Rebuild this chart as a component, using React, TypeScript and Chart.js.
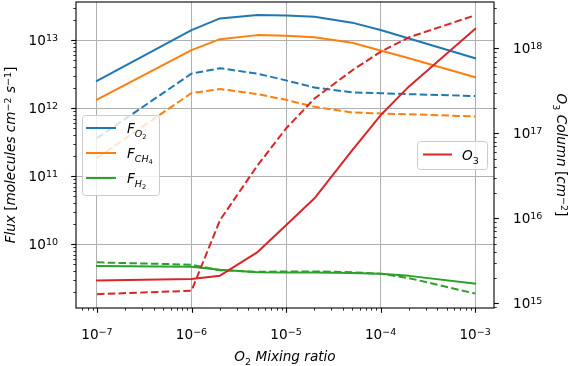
import React, { useEffect, useRef } from "react";
import { Chart, registerables } from "chart.js";

Chart.register(...registerables);

// ---------------- data ----------------
const O2_MIXING_RATIO = [1e-7, 1e-6, 2e-6, 5e-6, 1e-5, 2e-5, 5e-5, 1e-4, 2e-4, 1e-3];

const F_O2_SOLID = [2.5e12, 1.4e13, 2.08e13, 2.33e13, 2.3e13, 2.2e13, 1.8e13, 1.4e13, 1.05e13, 5.4e12];
const F_CH4_SOLID = [1.33e12, 7.1e12, 1.03e13, 1.18e13, 1.16e13, 1.1e13, 9.1e12, 7.0e12, 5.4e12, 2.84e12];
const F_H2_SOLID = [4.75e9, 4.64e9, 4.2e9, 3.85e9, 3.82e9, 3.8e9, 3.75e9, 3.65e9, 3.4e9, 2.62e9];

const F_O2_DASHED = [3.6e11, 3.2e12, 3.85e12, 3.2e12, 2.55e12, 2.0e12, 1.7e12, 1.65e12, 1.6e12, 1.5e12];
const F_CH4_DASHED = [1.84e11, 1.66e12, 1.9e12, 1.6e12, 1.32e12, 1.04e12, 8.6e11, 8.3e11, 8.1e11, 7.5e11];
const F_H2_DASHED = [5.37e9, 4.97e9, 4.1e9, 3.9e9, 3.95e9, 3.95e9, 3.85e9, 3.65e9, 3.15e9, 1.87e9];

const O3_COLUMN_SOLID = [1.85e15, 1.93e15, 2.11e15, 4.0e15, 8.3e15, 1.72e16, 6.3e16, 1.63e17, 3.57e17, 1.7e18];
const O3_COLUMN_DASHED = [1.28e15, 1.4e15, 9.5e15, 4.2e16, 1.14e17, 2.57e17, 5.5e17, 9.1e17, 1.35e18, 2.45e18];

// decade exponents for tick labels
const X_MAJOR_EXP = [-7, -6, -5, -4, -3];
const YL_MAJOR_EXP = [10, 11, 12, 13];
const YR_MAJOR_EXP = [15, 16, 17, 18];

// axis limits (log10)
const X_LIM = [-7.2, -2.8];
const YL_LIM = [9.059, 13.559];
const YR_LIM = [14.944, 18.546];

// ---------------- styles ----------------
const BLUE = "#1f77b4";
const ORANGE = "#ff7f0e";
const GREEN = "#2ca02c";
const RED = "#d62728";
const FONT = '"DejaVu Sans"';
const FS = 13.6;
const DASH = [7.5, 3.3];

type Run = { t: string; l?: number; i?: boolean };

const X_TITLE: Run[] = [{ t: "O", i: true }, { t: "2", l: -1 }, { t: " Mixing ratio", i: true }];
const YL_TITLE: Run[] = [
  { t: "Flux ", i: true },
  { t: "[" },
  { t: "molecules cm", i: true },
  { t: "\u22122", l: 1 },
  { t: " s", i: true },
  { t: "\u22121", l: 1 },
  { t: "]" },
];
const YR_TITLE: Run[] = [
  { t: "O", i: true },
  { t: "3", l: -1 },
  { t: " Column ", i: true },
  { t: "[" },
  { t: "cm", i: true },
  { t: "\u22122", l: 1 },
  { t: "]" },
];

const LEFT_LEGEND: { color: string; label: Run[] }[] = [
  { color: BLUE, label: [{ t: "F", i: true }, { t: "O", l: -1, i: true }, { t: "2", l: -2 }] },
  { color: ORANGE, label: [{ t: "F", i: true }, { t: "CH", l: -1, i: true }, { t: "4", l: -2 }] },
  { color: GREEN, label: [{ t: "F", i: true }, { t: "H", l: -1, i: true }, { t: "2", l: -2 }] },
];
const RIGHT_LEGEND: { color: string; label: Run[] }[] = [
  { color: RED, label: [{ t: "O", i: true }, { t: "3", l: -1 }] },
];

function runFont(r: Run) {
  const lvl = Math.abs(r.l || 0);
  const size = FS * Math.pow(0.7, lvl);
  return `${r.i ? "italic " : ""}${size}px ${FONT}`;
}
function runShift(r: Run) {
  const l = r.l || 0;
  if (l === 1) return -0.3 * FS;
  if (l === -1) return 0.3 * FS;
  if (l === -2) return 0.3 * FS + 0.16 * FS;
  return 0;
}
function richWidth(ctx: CanvasRenderingContext2D, runs: Run[]) {
  let w = 0;
  for (const r of runs) {
    ctx.font = runFont(r);
    w += ctx.measureText(r.t).width;
  }
  return w;
}
function drawRich(
  ctx: CanvasRenderingContext2D,
  runs: Run[],
  x: number,
  y: number,
  align: "left" | "center" | "right"
) {
  const w = richWidth(ctx, runs);
  let cx = align === "left" ? x : align === "center" ? x - w / 2 : x - w;
  ctx.textAlign = "left";
  ctx.textBaseline = "alphabetic";
  for (const r of runs) {
    ctx.font = runFont(r);
    ctx.fillText(r.t, cx, y + runShift(r));
    cx += ctx.measureText(r.t).width;
  }
}
function expRuns(e: number): Run[] {
  return [{ t: "10" }, { t: e < 0 ? "\u2212" + String(-e) : String(e), l: 1 }];
}
function roundRect(ctx: CanvasRenderingContext2D, x: number, y: number, w: number, h: number, r: number) {
  ctx.beginPath();
  ctx.moveTo(x + r, y);
  ctx.lineTo(x + w - r, y);
  ctx.quadraticCurveTo(x + w, y, x + w, y + r);
  ctx.lineTo(x + w, y + h - r);
  ctx.quadraticCurveTo(x + w, y + h, x + w - r, y + h);
  ctx.lineTo(x + r, y + h);
  ctx.quadraticCurveTo(x, y + h, x, y + h - r);
  ctx.lineTo(x, y + r);
  ctx.quadraticCurveTo(x, y, x + r, y);
  ctx.closePath();
}

function minorValues(lim: number[]) {
  const out: { v: number; major: boolean }[] = [];
  for (let e = Math.floor(lim[0]); e <= Math.ceil(lim[1]); e++) {
    for (let k = 1; k <= 9; k++) {
      const v = k * Math.pow(10, e);
      const lv = Math.log10(v);
      if (lv >= lim[0] - 1e-9 && lv <= lim[1] + 1e-9) out.push({ v, major: k === 1 });
    }
  }
  return out;
}

const decorPlugin = {
  id: "decor",
  afterDraw(chart: any) {
    const ctx: CanvasRenderingContext2D = chart.ctx;
    const { left, right, top, bottom } = chart.chartArea;
    const xs = chart.scales.x;
    const yl = chart.scales.y;
    const yr = chart.scales.y2;
    ctx.save();

    // legends
    const drawLegend = (
      items: { color: string; label: Run[] }[],
      box: number[],
      rows: number[],
      hx0: number,
      hx1: number,
      tx: number
    ) => {
      roundRect(ctx, box[0], box[1], box[2], box[3], 3);
      ctx.fillStyle = "rgba(255,255,255,0.8)";
      ctx.fill();
      ctx.strokeStyle = "#cccccc";
      ctx.lineWidth = 1;
      ctx.stroke();
      items.forEach((it, i) => {
        const y = rows[i];
        ctx.strokeStyle = it.color;
        ctx.lineWidth = 2;
        ctx.lineCap = "butt";
        ctx.setLineDash([]);
        ctx.beginPath();
        ctx.moveTo(hx0, y);
        ctx.lineTo(hx1, y);
        ctx.stroke();
        ctx.fillStyle = "#000";
        drawRich(ctx, it.label, tx, y + 5, "left");
      });
    };
    drawLegend(LEFT_LEGEND, [82.5, 115.5, 77, 80], [128, 153, 178], 86, 116, 127);
    drawLegend(RIGHT_LEGEND, [417.5, 141.5, 70, 28], [154.5], 423, 452, 462);

    // spines
    ctx.strokeStyle = "#000";
    ctx.lineWidth = 1.1;
    ctx.setLineDash([]);
    ctx.strokeRect(left, top, right - left, bottom - top);

    // ticks
    ctx.lineWidth = 1;
    for (const t of minorValues(X_LIM)) {
      const px = Math.round(xs.getPixelForValue(t.v)) + 0.5;
      const len = t.major ? 4.8 : 2.7;
      ctx.lineWidth = t.major ? 1.1 : 0.8;
      ctx.beginPath();
      ctx.moveTo(px, bottom);
      ctx.lineTo(px, bottom + len);
      ctx.stroke();
    }
    for (const t of minorValues(YL_LIM)) {
      const py = Math.round(yl.getPixelForValue(t.v)) + 0.5;
      const len = t.major ? 4.8 : 2.7;
      ctx.lineWidth = t.major ? 1.1 : 0.8;
      ctx.beginPath();
      ctx.moveTo(left, py);
      ctx.lineTo(left - len, py);
      ctx.stroke();
    }
    for (const t of minorValues(YR_LIM)) {
      const py = Math.round(yr.getPixelForValue(t.v)) + 0.5;
      const len = t.major ? 4.8 : 2.7;
      ctx.lineWidth = t.major ? 1.1 : 0.8;
      ctx.beginPath();
      ctx.moveTo(right, py);
      ctx.lineTo(right + len, py);
      ctx.stroke();
    }

    // tick labels
    ctx.fillStyle = "#000";
    for (const e of X_MAJOR_EXP) {
      const px = xs.getPixelForValue(Math.pow(10, e));
      drawRich(ctx, expRuns(e), px, bottom + 31, "center");
    }
    for (const e of YL_MAJOR_EXP) {
      const py = yl.getPixelForValue(Math.pow(10, e));
      drawRich(ctx, expRuns(e), left - 18, py + 5, "right");
    }
    for (const e of YR_MAJOR_EXP) {
      const py = yr.getPixelForValue(Math.pow(10, e));
      drawRich(ctx, expRuns(e), right + 19, py + 5, "left");
    }

    // axis titles
    drawRich(ctx, X_TITLE, (left + right) / 2, 360.5, "center");
    ctx.save();
    ctx.translate(15, (top + bottom) / 2);
    ctx.rotate(-Math.PI / 2);
    drawRich(ctx, YL_TITLE, 0, 0, "center");
    ctx.restore();
    ctx.save();
    ctx.translate(557, (top + bottom) / 2);
    ctx.rotate(Math.PI / 2);
    drawRich(ctx, YR_TITLE, 0, 0, "center");
    ctx.restore();

    ctx.restore();
  },
};

function series(values: number[], color: string, dashed: boolean, yAxisID: string, order: number) {
  return {
    data: O2_MIXING_RATIO.map((x, i) => ({ x, y: values[i] })),
    borderColor: color,
    backgroundColor: color,
    borderWidth: 2,
    borderDash: dashed ? DASH : [],
    borderCapStyle: dashed ? "butt" : "square",
    borderJoinStyle: "round",
    pointRadius: 0,
    pointHoverRadius: 0,
    tension: 0,
    fill: false,
    yAxisID,
    order,
  };
}

export default function App() {
  const ref = useRef<HTMLCanvasElement>(null);
  useEffect(() => {
    const gridOpts = { color: "#b0b0b0", lineWidth: 1, drawTicks: false };
    const chart = new Chart(ref.current as HTMLCanvasElement, {
      type: "line",
      data: {
        datasets: [
          series(O3_COLUMN_SOLID, RED, false, "y2", 0),
          series(O3_COLUMN_DASHED, RED, true, "y2", 1),
          series(F_O2_SOLID, BLUE, false, "y", 2),
          series(F_CH4_SOLID, ORANGE, false, "y", 3),
          series(F_H2_SOLID, GREEN, false, "y", 4),
          series(F_O2_DASHED, BLUE, true, "y", 5),
          series(F_CH4_DASHED, ORANGE, true, "y", 6),
          series(F_H2_DASHED, GREEN, true, "y", 7),
        ] as any,
      },
      options: {
        responsive: false,
        animation: false,
        devicePixelRatio: 1,
        layout: { padding: { top: 2, left: 0, right: 0, bottom: 0 } },
        plugins: { legend: { display: false }, tooltip: { enabled: false } },
        events: [],
        scales: {
          x: {
            type: "logarithmic",
            position: "bottom",
            min: Math.pow(10, X_LIM[0]),
            max: Math.pow(10, X_LIM[1]),
            grid: gridOpts,
            border: { display: false },
            ticks: { display: false },
            afterBuildTicks: (s: any) => {
              s.ticks = X_MAJOR_EXP.map((e) => ({ value: Math.pow(10, e) }));
            },
            afterFit: (s: any) => {
              s.height = 58;
            },
          },
          y: {
            type: "logarithmic",
            position: "left",
            min: Math.pow(10, YL_LIM[0]),
            max: Math.pow(10, YL_LIM[1]),
            grid: gridOpts,
            border: { display: false },
            ticks: { display: false },
            afterBuildTicks: (s: any) => {
              s.ticks = YL_MAJOR_EXP.map((e) => ({ value: Math.pow(10, e) }));
            },
            afterFit: (s: any) => {
              s.width = 76;
            },
          },
          y2: {
            type: "logarithmic",
            position: "right",
            min: Math.pow(10, YR_LIM[0]),
            max: Math.pow(10, YR_LIM[1]),
            grid: { display: false, drawTicks: false },
            border: { display: false },
            ticks: { display: false },
            afterBuildTicks: (s: any) => {
              s.ticks = YR_MAJOR_EXP.map((e) => ({ value: Math.pow(10, e) }));
            },
            afterFit: (s: any) => {
              s.width = 75;
            },
          },
        },
      } as any,
      plugins: [decorPlugin as any],
    });
    return () => chart.destroy();
  }, []);
  return (
    <div style={{ position: "absolute", left: 0, top: 0, width: 569, height: 366, background: "#fff" }}>
      <canvas ref={ref} width={569} height={366} style={{ display: "block", width: 569, height: 366 }} />
    </div>
  );
}
